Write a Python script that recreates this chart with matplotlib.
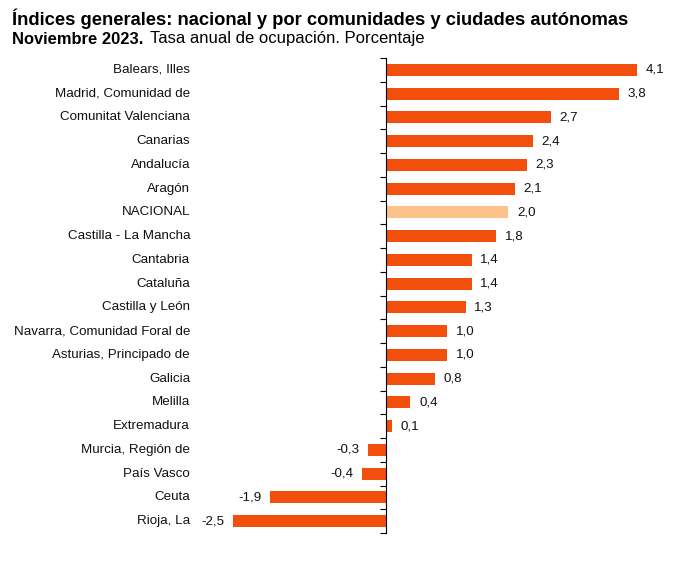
import matplotlib
matplotlib.use("Agg")
import matplotlib.pyplot as plt
from matplotlib.transforms import blended_transform_factory

plt.rcParams['font.family'] = ['Liberation Sans', 'DejaVu Sans']

categories = ["Balears, Illes", "Madrid, Comunidad de", "Comunitat Valenciana", "Canarias",
              "Andalucía", "Aragón", "NACIONAL", "Castilla - La Mancha", "Cantabria",
              "Cataluña", "Castilla y León", "Navarra, Comunidad Foral de",
              "Asturias, Principado de", "Galicia", "Melilla", "Extremadura",
              "Murcia, Región de", "País Vasco", "Ceuta", "Rioja, La"]
values = [4.1, 3.8, 2.7, 2.4, 2.3, 2.1, 2.0, 1.8, 1.4, 1.4, 1.3, 1.0, 1.0, 0.8, 0.4, 0.1,
          -0.3, -0.4, -1.9, -2.5]
labels = ["4,1", "3,8", "2,7", "2,4", "2,3", "2,1", "2,0", "1,8", "1,4", "1,4", "1,3", "1,0",
          "1,0", "0,8", "0,4", "0,1", "-0,3", "-0,4", "-1,9", "-2,5"]

W, H = 698, 566
fig = plt.figure(figsize=(W/100, H/100), dpi=100)
xmin, xmax = -2.7, 4.6
ppu = 61.2
left_px = 386 + xmin*ppu
right_px = 386 + xmax*ppu
top_px, bot_px = 58, 533
ax = fig.add_axes([left_px/W, 1 - bot_px/H, (right_px-left_px)/W, (bot_px-top_px)/H])

n = len(categories)
ypos = list(range(n))
colors = ["#FBC38A" if c == "NACIONAL" else "#F24E0C" for c in categories]
ax.barh(ypos, values, height=0.5, color=colors)
ax.set_xlim(xmin, xmax)
ax.set_ylim(n - 0.5, -0.5)

for s in ["top", "right", "bottom"]:
    ax.spines[s].set_visible(False)
ax.spines["left"].set_position(("data", 0))
ax.spines["left"].set_linewidth(0.8)
ax.set_xticks([])
ax.set_yticks([i - 0.5 for i in range(n + 1)])
ax.set_yticklabels([])
ax.tick_params(axis="y", direction="out", length=4, width=0.8)

tr = blended_transform_factory(fig.transFigure, ax.transData)
for i, c in enumerate(categories):
    ax.text(190/W, i, c, transform=tr, ha="right", va="center", fontsize=9.6, color="#111111")

for i, (v, l) in enumerate(zip(values, labels)):
    off = 0.14
    if v >= 0:
        ax.text(v + off, i, l, ha="left", va="center", fontsize=9.6, color="#111111")
    else:
        ax.text(v - off, i, l, ha="right", va="center", fontsize=9.6, color="#111111")

fig.text(12/W, 1 - 19/H, "Índices generales: nacional y por comunidades y ciudades autónomas",
         fontsize=13.2, fontweight="bold", ha="left", va="center")
fig.text(12/W, 1 - 39/H, "Noviembre 2023.", fontsize=11.9, fontweight="bold", ha="left", va="center")
fig.text(150/W, 1 - 39/H, "Tasa anual de ocupación. Porcentaje", fontsize=12.0, ha="left", va="center")

fig.savefig("out.png", dpi=100)
